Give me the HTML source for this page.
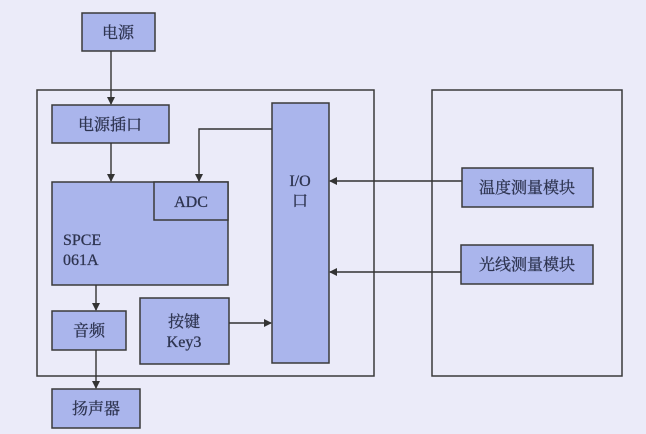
<!DOCTYPE html>
<html><head><meta charset="utf-8"><style>
html,body{margin:0;padding:0;background:#ebebf9;}
svg{display:block}
text{font-family:"Liberation Serif","Noto Serif CJK SC",serif;fill:#2e3450;font-size:16px;stroke:#2e3450;stroke-width:0.3}
</style></head><body>
<svg width="646" height="434" viewBox="0 0 646 434" xmlns="http://www.w3.org/2000/svg">
<defs><marker id="a" markerWidth="8" markerHeight="8" refX="7" refY="4" orient="auto" markerUnits="userSpaceOnUse"><path d="M0,0 L8,4 L0,8 z" fill="#333"/></marker></defs>
<rect width="646" height="434" fill="#ebebf9"/>
<g stroke="#3a3a3a" stroke-width="1.5" fill="none">
<rect x="37" y="90" width="337" height="286"/>
<rect x="432" y="90" width="190" height="286"/>
</g>
<g stroke="#3a3a3a" stroke-width="1.5" fill="#aab5ec">
<rect x="82" y="13" width="73" height="38"/>
<rect x="52" y="105" width="117" height="38"/>
<rect x="52" y="182" width="176" height="103"/>
<rect x="154" y="182" width="74" height="38"/>
<rect x="272" y="103" width="57" height="260"/>
<rect x="52" y="311" width="74" height="39"/>
<rect x="140" y="298" width="89" height="66"/>
<rect x="52" y="389" width="88" height="39"/>
<rect x="462" y="168" width="131" height="39"/>
<rect x="461" y="245" width="132" height="39"/>
</g>
<g stroke="#333" stroke-width="1.4" fill="none" marker-end="url(#a)">
<line x1="111" y1="51" x2="111" y2="104"/>
<line x1="111" y1="143" x2="111" y2="181"/>
<polyline points="272,129 199,129 199,181"/>
<line x1="96" y1="285" x2="96" y2="310"/>
<line x1="96" y1="350" x2="96" y2="388"/>
<line x1="229" y1="323" x2="271" y2="323"/>
<line x1="462" y1="181" x2="330" y2="181"/>
<line x1="461" y1="272" x2="330" y2="272"/>
</g>
<text x="118" y="38" text-anchor="middle">电源</text>
<text x="110" y="130" text-anchor="middle">电源插口</text>
<text x="191" y="207" text-anchor="middle">ADC</text>
<text x="63" y="245">SPCE</text>
<text x="63" y="265">061A</text>
<text x="300" y="186" text-anchor="middle">I/O</text>
<text x="300" y="206" text-anchor="middle">口</text>
<text x="89" y="336" text-anchor="middle">音频</text>
<text x="184" y="327" text-anchor="middle">按键</text>
<text x="184" y="347" text-anchor="middle">Key3</text>
<text x="96" y="414" text-anchor="middle">扬声器</text>
<text x="527" y="193" text-anchor="middle">温度测量模块</text>
<text x="527" y="270" text-anchor="middle">光线测量模块</text>
</svg>
</body></html>
